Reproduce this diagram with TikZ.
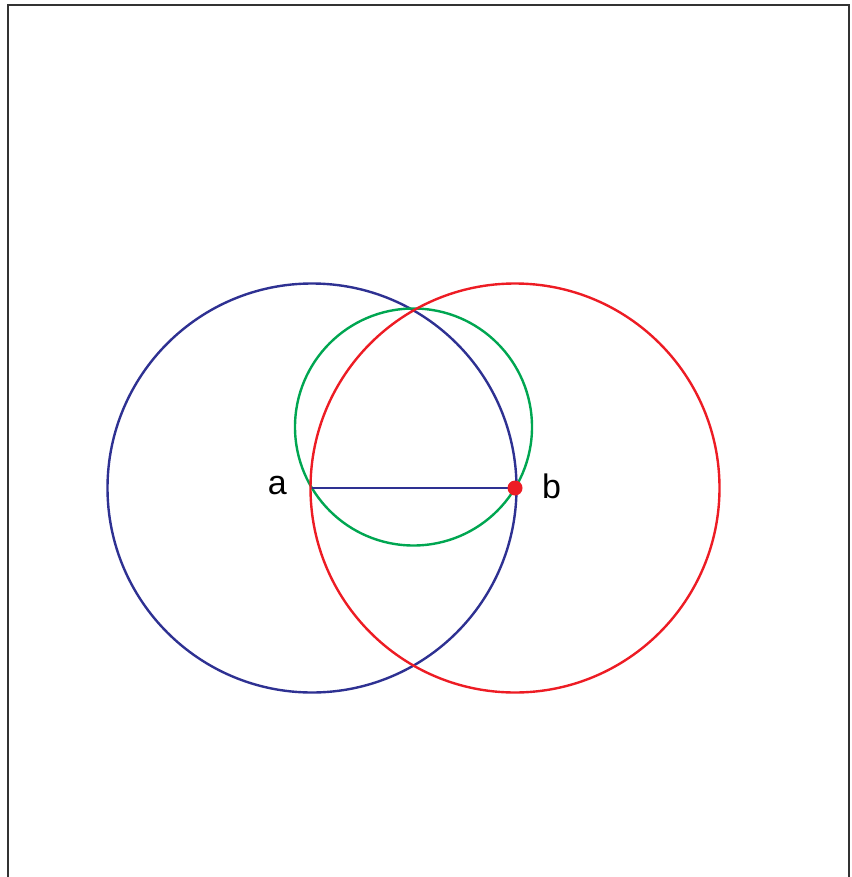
\documentclass[tikz,border=0pt]{standalone}
\usepackage{fontspec}
\setmainfont{Liberation Sans}
\usepackage{tikz}
\usetikzlibrary{positioning}
\usepackage{xcolor}
\definecolor{circblue}{RGB}{46,49,146}
\definecolor{circred}{RGB}{237,28,36}
\definecolor{circgreen}{RGB}{0,166,81}
\definecolor{framegray}{RGB}{51,51,51}

\begin{document}
\begin{tikzpicture}[x=1pt,y=-1pt,circ/.style={line width=2.4pt},lbl/.style={font=\fontsize{34}{40}\selectfont,inner sep=0pt}]
\useasboundingbox (0,0) rectangle (851,877);
\draw[framegray,line width=2.5pt] (8,877) -- (8,5) -- (849,5) -- (849,877);
\coordinate (a) at (312,488);
\coordinate (b) at (515,488);
\coordinate (m) at (413.5,427);
\draw[circ,circblue] (a) circle (204.5);
\draw[circ,circgreen] (m) circle (118.5);
\draw[circ,circred] (b) circle (204.5);
\draw[circ,circblue] (a) -- (b);
\fill[circred] (b) circle (7.5);
\node[lbl,left=25pt of a,yshift=2pt] (la) {a};
\node[lbl,right=27pt of b,yshift=2pt] (lb) {b};
\end{tikzpicture}
\end{document}
